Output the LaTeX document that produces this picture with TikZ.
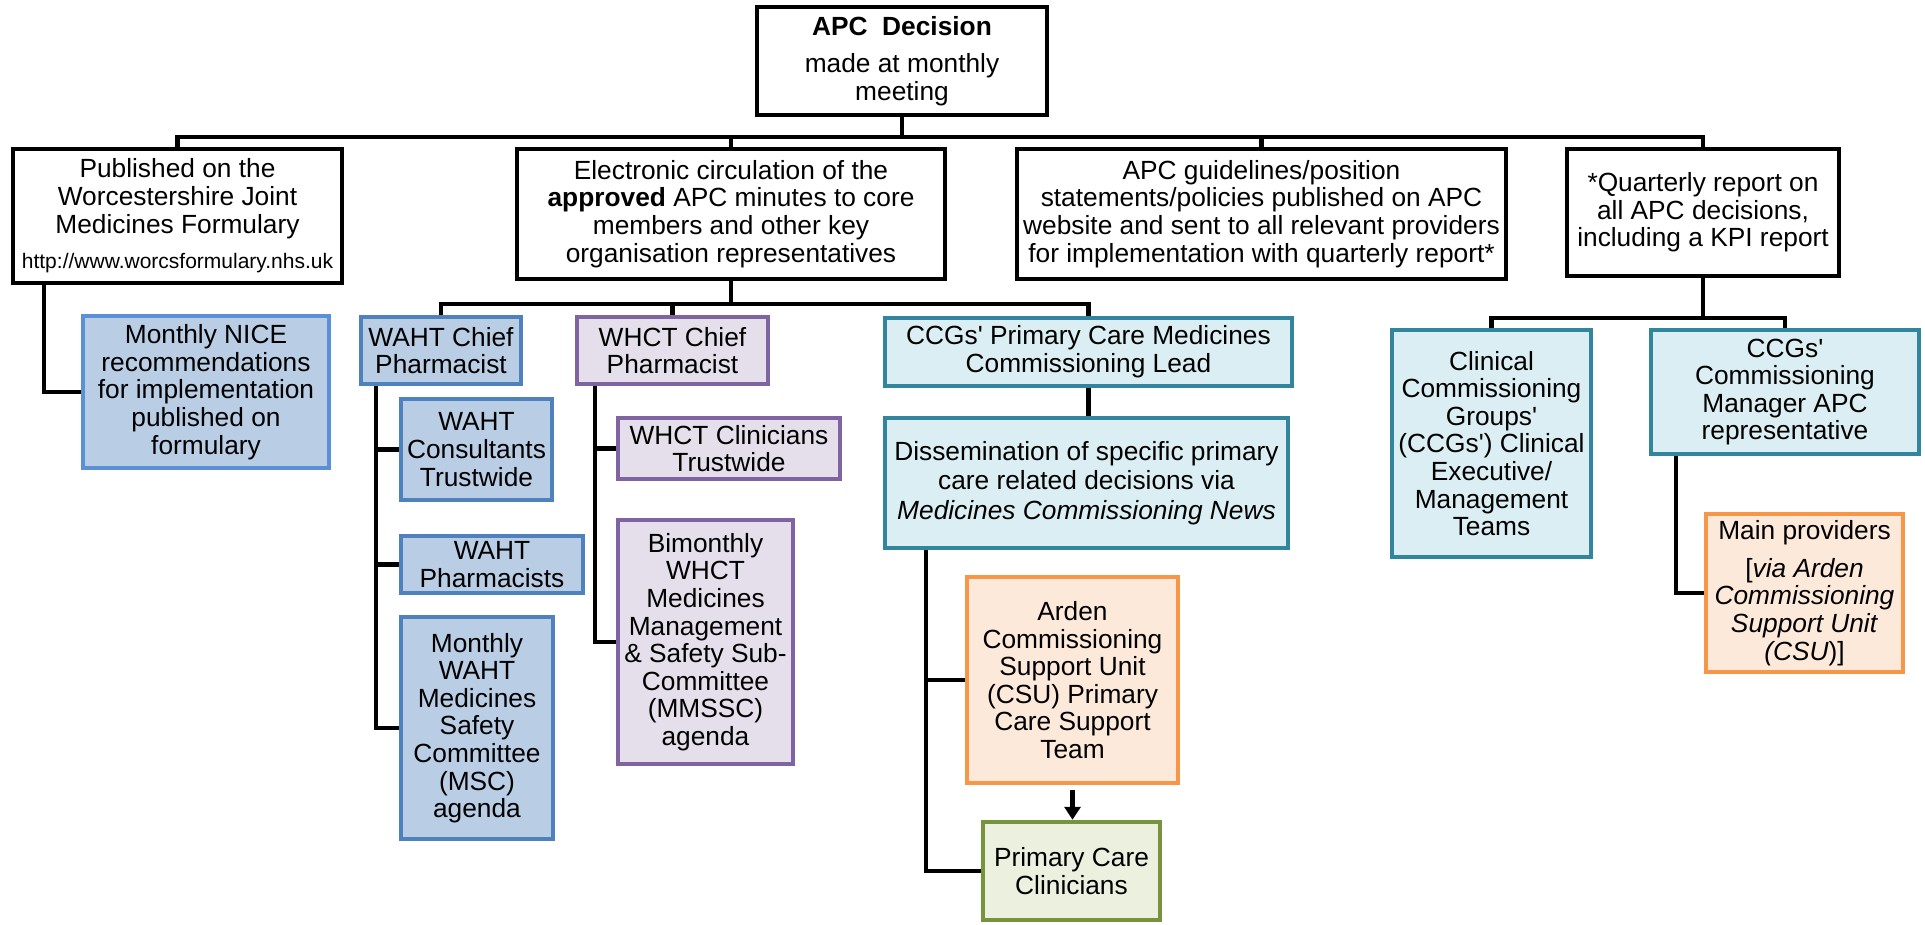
\documentclass[tikz,border=0pt]{standalone}
\usepackage{fontspec}
\setmainfont{Liberation Sans}
\usetikzlibrary{arrows.meta}
\newcommand\apos{\textquotesingle}
\definecolor{wahtF}{HTML}{B9CDE5}
\definecolor{wahtD}{HTML}{4F81BD}
\definecolor{niceD}{HTML}{5B8FD6}
\definecolor{whctF}{HTML}{E5DFEC}
\definecolor{whctD}{HTML}{8064A2}
\definecolor{ccgF}{HTML}{DAEEF3}
\definecolor{ccgD}{HTML}{31859C}
\definecolor{orgF}{HTML}{FDE9D9}
\definecolor{orgD}{HTML}{F79646}
\definecolor{grnF}{HTML}{EBF1DE}
\definecolor{grnD}{HTML}{77933C}
\begin{document}
\begin{tikzpicture}[x=1pt,y=-1pt,
  base/.style={rectangle, line width=4.5pt, inner sep=0pt, align=center,
    font=\fontsize{26.3}{27.6}\selectfont},
  blk/.style={base, draw=black, fill=white},
  wahtbox/.style={base, draw=wahtD, fill=wahtF},
  nicebox/.style={base, draw=niceD, fill=wahtF},
  whctbox/.style={base, draw=whctD, fill=whctF},
  ccgbox/.style={base, draw=ccgD, fill=ccgF},
  orgbox/.style={base, draw=orgD, fill=orgF},
  grnbox/.style={base, draw=grnD, fill=grnF},
  conn/.style={line width=4.3pt, line join=miter}
]
\useasboundingbox (0,0) rectangle (1925,925);
\fill[white] (0,0) rectangle (1925,925);

% level 0
\node[blk, minimum width=290, minimum height=108] (apc) at (902,61)
  {\textbf{APC\ \ Decision}\\[10pt]made at monthly\\meeting};

% level 1
\node[blk, minimum width=329, minimum height=134] (pub) at (177.5,216)
  {Published on the\\Worcestershire Joint\\Medicines Formulary\\[8pt]{\fontsize{21}{25}\selectfont http://www.worcsformulary.nhs.uk}};
\node[blk, minimum width=428, minimum height=130] (elec) at (731,214)
  {Electronic circulation of the\\\textbf{approved} APC minutes to core\\members and other key\\organisation representatives};
\node[blk, minimum width=489, minimum height=130] (guide) at (1261.5,214)
  {APC guidelines/position\\statements/policies published on APC\\website and sent to all relevant providers\\for implementation with quarterly report*};
\node[blk, minimum width=272, minimum height=127] (quart) at (1703,212.5)
  {*Quarterly report on\\all APC decisions,\\including a KPI report};

% published branch
\node[nicebox, minimum width=246, minimum height=152] (nice) at (206,392)
  {Monthly NICE\\recommendations\\for implementation\\published on\\formulary};

% WAHT branch
\node[wahtbox, minimum width=160, minimum height=67] (wahtc) at (441,350.5)
  {WAHT Chief\\Pharmacist};
\node[wahtbox, minimum width=151, minimum height=101] (wahtcons) at (476.5,449.5)
  {WAHT\\Consultants\\Trustwide};
\node[wahtbox, minimum width=182, minimum height=57] (wahtph) at (492,564.5)
  {WAHT\\Pharmacists};
\node[wahtbox, minimum width=152, minimum height=222] (wahtmsc) at (477,728)
  {Monthly\\WAHT\\Medicines\\Safety\\Committee\\(MSC)\\agenda};

% WHCT branch
\node[whctbox, minimum width=191, minimum height=67] (whctc) at (672.5,350.5)
  {WHCT Chief\\Pharmacist};
\node[whctbox, minimum width=222, minimum height=61] (whctcl) at (729,448.5)
  {WHCT Clinicians\\Trustwide};
\node[whctbox, minimum width=175, minimum height=244] (whctmm) at (705.5,642)
  {Bimonthly\\WHCT\\Medicines\\Management\\\& Safety Sub-\\Committee\\(MMSSC)\\agenda};

% CCG primary care branch
\node[ccgbox, minimum width=407, minimum height=68] (ccglead) at (1088.5,352)
  {CCGs\apos{} Primary Care Medicines\\Commissioning Lead};
\node[ccgbox, minimum width=403, minimum height=130,
  font=\fontsize{26.3}{29.5}\selectfont] (dissem) at (1086.5,483)
  {Dissemination of specific primary\\care related decisions via\\\textit{Medicines Commissioning News}};
\node[orgbox, minimum width=211, minimum height=206] (arden) at (1072.5,680)
  {Arden\\Commissioning\\Support Unit\\(CSU) Primary\\Care Support\\Team};
\node[grnbox, minimum width=177, minimum height=98] (pcc) at (1071.5,871)
  {Primary Care\\Clinicians};

% quarterly branch
\node[ccgbox, minimum width=199, minimum height=227] (clin) at (1491.5,443.5)
  {Clinical\\Commissioning\\Groups\apos\\(CCGs\apos) Clinical\\Executive/\\Management\\Teams};
\node[ccgbox, minimum width=268, minimum height=124] (ccgcm) at (1785,392)
  {CCGs\apos\\Commissioning\\Manager APC\\representative};
\node[orgbox, minimum width=197, minimum height=158] (mainp) at (1804.5,593)
  {Main providers\\[10pt]{[}\textit{via Arden}\\\textit{Commissioning}\\\textit{Support Unit}\\\textit{(CSU})]};

% connector helper coordinates
\coordinate (bar1) at (0,137);
\coordinate (bar2) at (0,304);
\coordinate (bar3) at (0,318);

% top level connectors
\draw[conn] (pub.north) -- (pub.north |- bar1) -- (quart.north |- bar1) -- (quart.north);
\draw[conn] (apc.south) -- (apc.south |- bar1);
\draw[conn] (elec.north |- bar1) -- (elec.north);
\draw[conn] (guide.north |- bar1) -- (guide.north);

% published -> NICE
\coordinate (pv) at ([xshift=33pt]pub.south west);
\draw[conn] (pv) |- (nice.west);

% electronic -> second level
\draw[conn] (elec.south) -- (elec.south |- bar2);
\draw[conn] (wahtc.north) -- (wahtc.north |- bar2) -- (ccglead.north |- bar2) -- (ccglead.north);
\draw[conn] (whctc.north |- bar2) -- (whctc.north);

% WAHT tree
\coordinate (wv) at ([xshift=17pt]wahtc.south west);
\draw[conn] (wv) |- (wahtmsc.west);
\draw[conn] (wv |- wahtcons.west) -- (wahtcons.west);
\draw[conn] (wv |- wahtph.west) -- (wahtph.west);

% WHCT tree
\coordinate (hv) at ([xshift=20pt]whctc.south west);
\draw[conn] (hv) |- (whctmm.west);
\draw[conn] (hv |- whctcl.west) -- (whctcl.west);

% CCG primary care tree
\draw[conn] (ccglead.south) -- (ccglead.south |- dissem.north);
\coordinate (dv) at ([xshift=43pt]dissem.south west);
\draw[conn] (dv) |- (pcc.west);
\draw[conn] (dv |- arden.west) -- (arden.west);
\draw[conn, -{Triangle[length=13pt,width=16pt]}] ([yshift=-5pt]arden.south) -- (arden.south |- pcc.north);

% quarterly tree
\draw[conn] (quart.south) -- (quart.south |- bar3);
\draw[conn] (clin.north) -- (clin.north |- bar3) -- (ccgcm.north |- bar3) -- (ccgcm.north);
\coordinate (cv) at ([xshift=27pt]ccgcm.south west);
\draw[conn] (cv) |- (mainp.west);
\end{tikzpicture}
\end{document}
